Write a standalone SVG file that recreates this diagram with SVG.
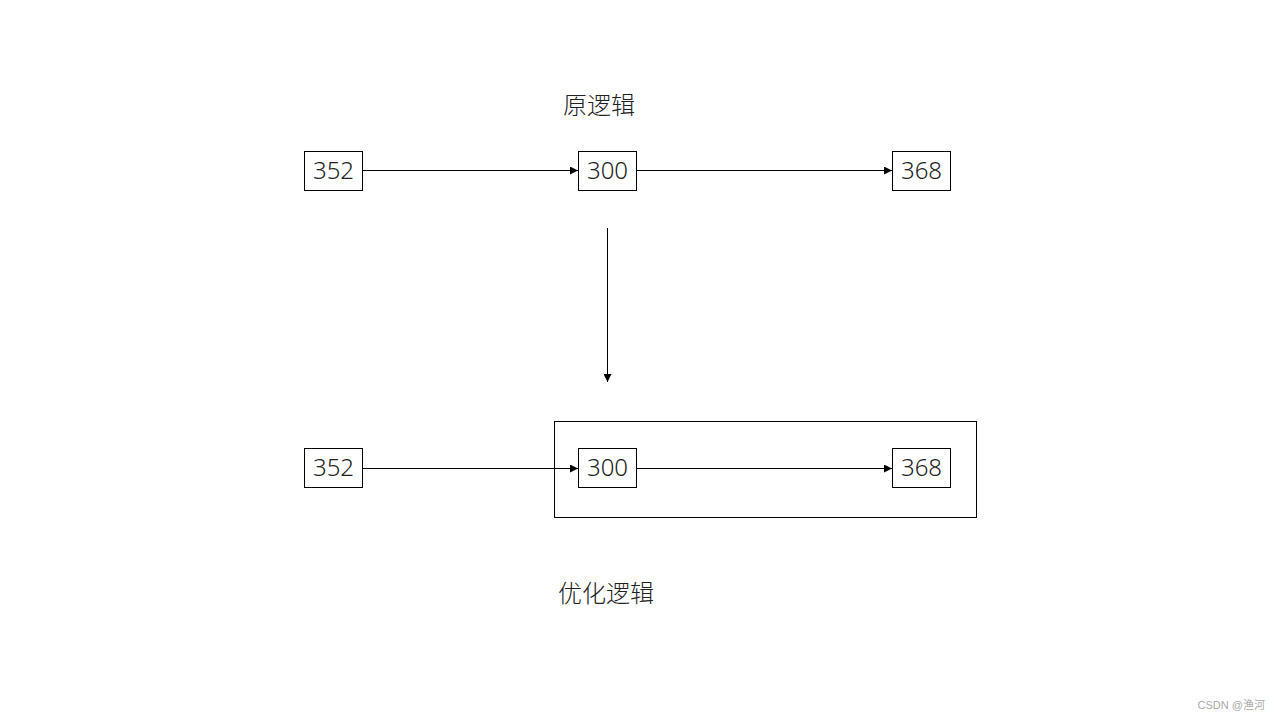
<svg xmlns="http://www.w3.org/2000/svg" width="1280" height="720" viewBox="0 0 1280 720">
<defs>
<marker id="arr" viewBox="0 0 10 10" refX="10" refY="5" markerWidth="8" markerHeight="8" markerUnits="userSpaceOnUse" orient="auto"><path d="M0,0 L10,5 L0,10 z" fill="#000"/></marker>
<style>
.box{fill:#fff;stroke:#000;stroke-width:1}
.num{font-family:"Noto Sans","Noto Sans CJK SC",sans-serif;font-size:24px;font-weight:300;fill:#222;text-anchor:middle;dominant-baseline:central}
.title{font-family:"Noto Sans CJK SC",sans-serif;font-size:24px;font-weight:300;fill:#222;text-anchor:middle}
.line{stroke:#000;stroke-width:1;fill:none;marker-end:url(#arr)}
</style>
</defs>
<rect width="1280" height="720" fill="#fff"/>
<rect id="group-box" x="554.5" y="421.5" width="422" height="96" fill="none" stroke="#000"/>
<text class="title" x="599" y="114">原逻辑</text>
<text class="title" x="606" y="602">优化逻辑</text>
<g id="connectors">
<line class="line" x1="362" y1="170.5" x2="578" y2="170.5"/>
<line class="line" x1="636" y1="170.5" x2="892" y2="170.5"/>
<line class="line" x1="607.5" y1="228" x2="607.5" y2="382"/>
<line class="line" x1="362" y1="468.5" x2="578" y2="468.5"/>
<line class="line" x1="636" y1="468.5" x2="892" y2="468.5"/>
</g>
<g id="n352a"><rect class="box" x="304.5" y="151.5" width="58" height="39"/><text class="num" x="333.5" y="169.5">352</text></g>
<g id="n300a"><rect class="box" x="578.5" y="151.5" width="58" height="39"/><text class="num" x="607.5" y="169.5">300</text></g>
<g id="n368a"><rect class="box" x="892.5" y="151.5" width="58" height="39"/><text class="num" x="921.5" y="169.5">368</text></g>
<g id="n352b"><rect class="box" x="304.5" y="448.5" width="58" height="39"/><text class="num" x="333.5" y="466.5">352</text></g>
<g id="n300b"><rect class="box" x="578.5" y="448.5" width="58" height="39"/><text class="num" x="607.5" y="466.5">300</text></g>
<g id="n368b"><rect class="box" x="892.5" y="448.5" width="58" height="39"/><text class="num" x="921.5" y="466.5">368</text></g>
<text x="1265" y="709" font-family="'Liberation Sans','Noto Sans CJK SC',sans-serif" font-size="11" fill="#aaa" text-anchor="end">CSDN @渔河</text>
</svg>
